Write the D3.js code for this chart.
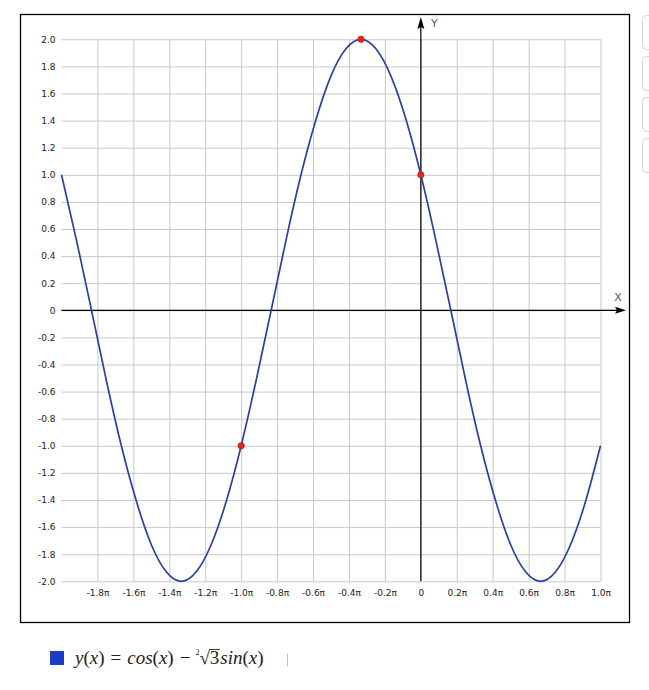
<!DOCTYPE html>
<html>
<head>
<meta charset="utf-8">
<script src="https://cdn.jsdelivr.net/npm/d3@7"></script>
<style>
  body { margin: 0; background: #fff; }
  svg { display: block; }
</style>
</head>
<body>
<script>
// curve y(x), x in units of pi (steps of pi/12)
var xPi = [-2, -1.917, -1.833, -1.75, -1.667, -1.583, -1.5, -1.417, -1.333, -1.25, -1.167, -1.083,
  -1, -0.917, -0.833, -0.75, -0.667, -0.583, -0.5, -0.417, -0.333, -0.25, -0.167, -0.083,
  0, 0.083, 0.167, 0.25, 0.333, 0.417, 0.5, 0.583, 0.667, 0.75, 0.833, 0.917, 1];
var yVals = [1.0, 0.52, 0, -0.52, -1.0, -1.41, -1.73, -1.93, -2.0, -1.93, -1.73, -1.41,
  -1.0, -0.52, 0, 0.52, 1.0, 1.41, 1.73, 1.93, 2.0, 1.93, 1.73, 1.41,
  1.0, 0.52, 0, -0.52, -1.0, -1.41, -1.73, -1.93, -2.0, -1.93, -1.73, -1.41, -1.0];

// red marked points
var markX = [-0.333, 0, -1.0];
var markY = [2.0, 1.0, -1.0];

var xTicks = [-1.8, -1.6, -1.4, -1.2, -1.0, -0.8, -0.6, -0.4, -0.2, 0, 0.2, 0.4, 0.6, 0.8, 1.0];
var yTicks = [2.0, 1.8, 1.6, 1.4, 1.2, 1.0, 0.8, 0.6, 0.4, 0.2, 0, -0.2, -0.4, -0.6, -0.8,
  -1.0, -1.2, -1.4, -1.6, -1.8, -2.0];

var w = 649, h = 690;

var svg = d3.select("body")
  .append("svg")
  .attr("width", w)
  .attr("height", h);

var x = d3.scaleLinear().domain([-2, 1]).range([61.5, 600.5]);
var y = d3.scaleLinear().domain([-2, 2]).range([581.3, 39.3]);

// outer frame
svg.append("rect")
  .attr("x", 20.5).attr("y", 14.5)
  .attr("width", 609).attr("height", 608)
  .attr("fill", "none")
  .attr("stroke", "#000")
  .attr("stroke-width", 1.3);

// side buttons
[15, 56, 97, 138].forEach(function(t) {
  svg.append("rect")
    .attr("x", 642.5).attr("y", t + 0.5)
    .attr("width", 30).attr("height", 34)
    .attr("rx", 4)
    .attr("fill", "#fff")
    .attr("stroke", "#d4d4d4");
});

// grid
svg.append("g")
  .attr("transform", "translate(0," + y(-2) + ")")
  .call(d3.axisBottom(x).tickValues(xTicks).tickSize(-(y(-2) - y(2))).tickFormat(""))
  .call(function(g) {
    g.select(".domain").remove();
    g.selectAll("line").attr("stroke", "#c8c8c8");
  });

svg.append("g")
  .attr("transform", "translate(" + x(-2) + ",0)")
  .call(d3.axisLeft(y).tickValues(yTicks).tickSize(-(x(1) - x(-2))).tickFormat(""))
  .call(function(g) {
    g.select(".domain").remove();
    g.selectAll("line").attr("stroke", "#c8c8c8");
  });

// tick labels
svg.append("g")
  .attr("transform", "translate(0," + y(-2) + ")")
  .call(d3.axisBottom(x).tickValues(xTicks).tickSize(0).tickPadding(8)
    .tickFormat(function(d) { return d === 0 ? "0" : d.toFixed(1) + "\u03c0"; }))
  .call(function(g) {
    g.select(".domain").remove();
    g.selectAll("text")
      .attr("font-family", "DejaVu Sans")
      .attr("font-size", 9)
      .attr("fill", "#222");
  });

svg.append("g")
  .attr("transform", "translate(" + x(-2) + ",0)")
  .call(d3.axisLeft(y).tickValues(yTicks).tickSize(0).tickPadding(6)
    .tickFormat(function(d) { return d === 0 ? "0" : d.toFixed(1); }))
  .call(function(g) {
    g.select(".domain").remove();
    g.selectAll("text")
      .attr("font-family", "DejaVu Sans")
      .attr("font-size", 9)
      .attr("fill", "#222");
  });

// axes with arrows
svg.append("line")
  .attr("x1", x(-2)).attr("x2", 620)
  .attr("y1", y(0)).attr("y2", y(0))
  .attr("stroke", "#000").attr("stroke-width", 1.2);
svg.append("path")
  .attr("d", "M626," + y(0) + "L615," + (y(0) - 3.5) + "L617," + y(0) + "L615," + (y(0) + 3.5) + "Z")
  .attr("fill", "#000");
svg.append("text")
  .attr("x", 618).attr("y", 301)
  .attr("text-anchor", "middle")
  .attr("font-family", "DejaVu Sans")
  .attr("font-size", 11)
  .attr("fill", "#555")
  .text("X");

svg.append("line")
  .attr("x1", x(0)).attr("x2", x(0))
  .attr("y1", y(-2)).attr("y2", 24)
  .attr("stroke", "#000").attr("stroke-width", 1.2);
svg.append("path")
  .attr("d", "M" + x(0) + ",17L" + (x(0) - 3.5) + ",29L" + x(0) + ",27L" + (x(0) + 3.5) + ",29Z")
  .attr("fill", "#000");
svg.append("text")
  .attr("x", 431).attr("y", 27)
  .attr("font-family", "DejaVu Sans")
  .attr("font-size", 11)
  .attr("fill", "#555")
  .text("Y");

// the curve
var pts = xPi.map(function(d, i) { return [d, yVals[i]]; });
var line = d3.line()
  .x(function(d) { return x(d[0]); })
  .y(function(d) { return y(d[1]); })
  .curve(d3.curveNatural);

svg.append("path")
  .datum(pts)
  .attr("d", line)
  .attr("fill", "none")
  .attr("stroke", "#2b41a3")
  .attr("stroke-width", 1.7);

// marked points
svg.selectAll("circle.mark")
  .data(markX)
  .enter()
  .append("circle")
  .attr("class", "mark")
  .attr("cx", function(d) { return x(d); })
  .attr("cy", function(d, i) { return y(markY[i]); })
  .attr("r", 3.2)
  .attr("fill", "#e3261f")
  .attr("stroke", "#b31a14")
  .attr("stroke-width", 0.6);

// legend
svg.append("rect")
  .attr("x", 50).attr("y", 651)
  .attr("width", 14).attr("height", 14)
  .attr("fill", "#1d3cc4");

var lg = svg.append("text")
  .attr("x", 75).attr("y", 664)
  .attr("font-family", "Liberation Serif")
  .attr("font-size", 19)
  .attr("fill", "#222");
lg.append("tspan").attr("font-style", "italic").text("y");
lg.append("tspan").text("(");
lg.append("tspan").attr("font-style", "italic").text("x");
lg.append("tspan").text(")");
lg.append("tspan").attr("dx", 6).text("=");
lg.append("tspan").attr("dx", 6).attr("font-style", "italic").text("cos");
lg.append("tspan").text("(");
lg.append("tspan").attr("font-style", "italic").text("x");
lg.append("tspan").text(")");
lg.append("tspan").attr("dx", 6).text("\u2212");
lg.append("tspan").attr("dx", 5).attr("dy", -9).attr("font-size", 8).text("2");
lg.append("tspan").attr("dy", 9).text("\u221a");
lg.append("tspan").text("3");
lg.append("tspan").attr("dx", 1).attr("font-style", "italic").text("sin");
lg.append("tspan").text("(");
lg.append("tspan").attr("font-style", "italic").text("x");
lg.append("tspan").text(")");

// bar over the radicand
var node = lg.node();
var ri = node.textContent.indexOf("\u221a");
var rb = node.getExtentOfChar(ri);
var tb = node.getExtentOfChar(ri + 1);
svg.append("line")
  .attr("x1", rb.x + rb.width - 0.5).attr("x2", tb.x + tb.width + 0.5)
  .attr("y1", rb.y + 2.5).attr("y2", rb.y + 2.5)
  .attr("stroke", "#222").attr("stroke-width", 0.9);

svg.append("line")
  .attr("x1", 287.5).attr("x2", 287.5)
  .attr("y1", 654).attr("y2", 666)
  .attr("stroke", "#f4a8a8").attr("stroke-width", 1);
</script>
</body>
</html>
